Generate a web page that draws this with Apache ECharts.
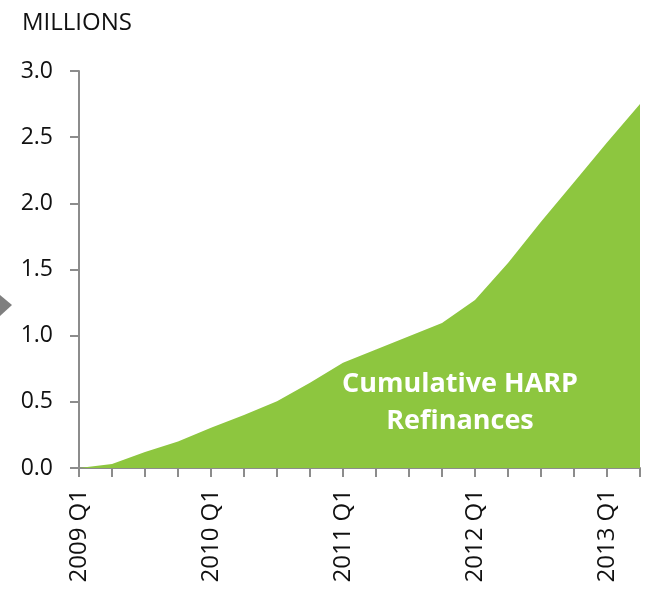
<!DOCTYPE html>
<html>
<head>
<meta charset="utf-8">
<script src="https://cdn.jsdelivr.net/npm/echarts@6/dist/echarts.min.js"></script>
<style>html,body{margin:0;padding:0;background:#fff;}#c{width:656px;height:597px;}</style>
</head>
<body>
<div id="c"></div>
<script>
const categories = ['2009 Q1','2009 Q2','2009 Q3','2009 Q4','2010 Q1','2010 Q2','2010 Q3','2010 Q4','2011 Q1','2011 Q2','2011 Q3','2011 Q4','2012 Q1','2012 Q2','2012 Q3','2012 Q4','2013 Q1','2013 Q2'];
const harpValues = [0, 0.03, 0.12, 0.2, 0.305, 0.4, 0.505, 0.645, 0.795, 0.895, 0.995, 1.095, 1.27, 1.55, 1.86, 2.16, 2.46, 2.75];
const yTicks = [0, 0.5, 1.0, 1.5, 2.0, 2.5, 3.0];

const chart = echarts.init(document.getElementById('c'));
const font = '"Open Sans", "Noto Sans", sans-serif';
chart.setOption({
  animation: false,
  grid: {left: 79, right: 16, top: 71, bottom: 129},
  xAxis: {
    type: 'category', data: categories, boundaryGap: false,
    axisLine: {lineStyle: {color: '#8c8c8c', width: 2}},
    axisTick: {show: true, length: 9, interval: 0, lineStyle: {color: '#8c8c8c', width: 2}},
    axisLabel: {
      rotate: 90, interval: 3, margin: 21, fontSize: 24, color: '#111', fontFamily: font,
      formatter: v => v.endsWith('Q1') ? v : ''
    },
    splitLine: {show: false}
  },
  yAxis: {
    type: 'value', min: 0, max: 3, interval: 0.5,
    axisLine: {show: true, lineStyle: {color: '#8c8c8c', width: 2}},
    axisTick: {show: true, length: 9, lineStyle: {color: '#8c8c8c', width: 2}},
    axisLabel: {fontSize: 23, color: '#111', fontFamily: font, margin: 26,
      formatter: v => yTicks.includes(v) ? v.toFixed(1) : ''},
    splitLine: {show: false}
  },
  series: [{
    type: 'line', data: harpValues, symbol: 'none',
    lineStyle: {width: 0, color: '#8dc63f'},
    areaStyle: {color: '#8dc63f', opacity: 1}
  }],
  graphic: [
    {type: 'text', left: 22, top: 11, z: 100, style: {text: 'MILLIONS', fontSize: 24, fill: '#111', fontFamily: font}},
    {type: 'polygon', z: 100, shape: {points: [[0, 295], [12, 305], [0, 316]]}, style: {fill: '#7f7f7f'}},
    {type: 'text', x: 460, y: 403, z: 100, style: {text: 'Cumulative HARP\nRefinances', fontSize: 27, fontWeight: 'bold', fill: '#fff', fontFamily: font, align: 'center', verticalAlign: 'middle', lineHeight: 37}}
  ]
});
</script>
</body>
</html>
